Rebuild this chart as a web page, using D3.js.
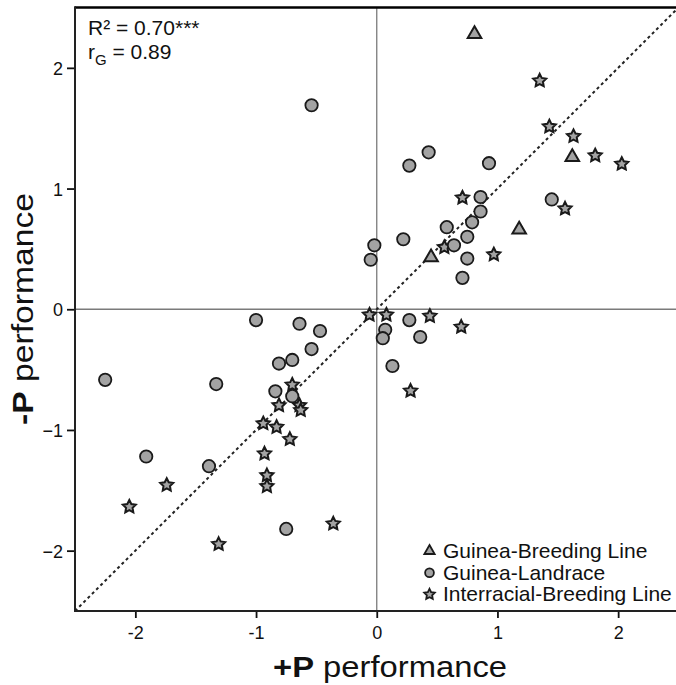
<!DOCTYPE html>
<html>
<head>
<meta charset="utf-8">
<script src="https://cdn.jsdelivr.net/npm/d3@7"></script>
<style>
  html, body { margin: 0; padding: 0; background: #fff; }
  svg { display: block; font-family: Arial, "Liberation Sans", Helvetica, sans-serif; }
</style>
</head>
<body>
<div id="chart"></div>
<script>
// ---- Data ----
const seriesNames = ["Guinea-Breeding Line", "Guinea-Landrace", "Interracial-Breeding Line"];

const breedingX = [0.81, 1.62, 1.18, 0.45];
const breedingY = [2.28, 1.26, 0.66, 0.43];

const landraceX = [0.43, 0.27, 0.93, 0.86, 0.86, 0.79, 0.58, 0.75, 0.64, 0.75, 0.71, 0.22, 1.45, -0.02, -0.05, -0.54,
  0.07, 0.05, 0.27, 0.36, 0.13, -1.00, -0.64, -0.47, -0.54, -0.70, -0.81, -0.84, -0.70, -1.33, -1.39, -2.25, -1.91, -0.75];
const landraceY = [1.30, 1.19, 1.21, 0.93, 0.81, 0.72, 0.68, 0.60, 0.53, 0.42, 0.26, 0.58, 0.91, 0.53, 0.41, 1.69,
  -0.17, -0.24, -0.09, -0.23, -0.47, -0.09, -0.12, -0.18, -0.33, -0.42, -0.45, -0.68, -0.72, -0.62, -1.30, -0.585, -1.22, -1.82];

const interX = [1.35, 1.43, 1.63, 1.81, 2.03, 1.56, 0.71, 0.56, 0.97, -0.06, 0.08, 0.44, 0.70, 0.28,
  -0.70, -0.81, -0.64, -0.63, -0.94, -0.83, -0.72, -0.93, -0.91, -0.91, -1.74, -2.05, -1.31, -0.36];
const interY = [1.90, 1.52, 1.44, 1.28, 1.21, 0.84, 0.93, 0.52, 0.46, -0.04, -0.04, -0.05, -0.14, -0.67,
  -0.62, -0.79, -0.79, -0.83, -0.94, -0.97, -1.07, -1.19, -1.37, -1.46, -1.45, -1.63, -1.94, -1.77];

const xTicks = [-2, -1, 0, 1, 2];
const xTickLabels = ["-2", "-1", "0", "1", "2"];
const yTicks = [-2, -1, 0, 1, 2];
const yTickLabels = ["\u22122", "\u22121", "0", "1", "2"];
const domainMin = -2.5, domainMax = 2.5;

// ---- Layout ----
const W = 676, H = 685;
const pLeft = 75, pRight = 678.5, pTop = 7.5, pBottom = 611;

const svg = d3.select("#chart").append("svg").attr("width", W).attr("height", H);

const x = d3.scaleLinear().domain([domainMin, domainMax]).range([pLeft, pRight]);
const y = d3.scaleLinear().domain([domainMin, domainMax]).range([pBottom, pTop]);

svg.append("defs").append("clipPath").attr("id", "clip")
  .append("rect").attr("x", pLeft).attr("y", pTop).attr("width", pRight - pLeft).attr("height", pBottom - pTop);

// zero reference lines
svg.append("line").attr("x1", x(0)).attr("x2", x(0)).attr("y1", pTop).attr("y2", pBottom)
  .attr("stroke", "#7a7a7a").attr("stroke-width", 1.3);
svg.append("line").attr("x1", pLeft).attr("x2", pRight).attr("y1", y(0)).attr("y2", y(0))
  .attr("stroke", "#7a7a7a").attr("stroke-width", 1.3);

// 1:1 dashed line
svg.append("line").attr("clip-path", "url(#clip)")
  .attr("x1", x(domainMin)).attr("y1", y(domainMin)).attr("x2", x(domainMax)).attr("y2", y(domainMax))
  .attr("stroke", "#222").attr("stroke-width", 2).attr("stroke-dasharray", "3,3");

// axes
const xAxis = d3.axisBottom(x).tickValues(xTicks).tickFormat((d, i) => xTickLabels[i]).tickSize(7).tickPadding(8);
const yAxis = d3.axisLeft(y).tickValues(yTicks).tickFormat((d, i) => yTickLabels[i]).tickSize(8).tickPadding(4);

const gx = svg.append("g").attr("transform", `translate(0,${pBottom})`).call(xAxis);
const gy = svg.append("g").attr("transform", `translate(${pLeft},0)`).call(yAxis);
[gx, gy].forEach(g => {
  g.select(".domain").remove();
  g.selectAll(".tick line").attr("stroke", "#111").attr("stroke-width", 1.8);
  g.selectAll(".tick text").attr("fill", "#111").style("font-size", "18px")
    .style("font-family", "Arial, 'Liberation Sans', sans-serif");
});
gy.selectAll(".tick text").attr("dy", "0.36em");

// frame lines
svg.append("line").attr("x1", pLeft).attr("x2", W).attr("y1", pTop).attr("y2", pTop)
  .attr("stroke", "#000").attr("stroke-width", 2.6);
svg.append("line").attr("x1", pLeft).attr("x2", pLeft).attr("y1", pTop - 1.3).attr("y2", pBottom + 1)
  .attr("stroke", "#222").attr("stroke-width", 2);
svg.append("line").attr("x1", pLeft - 1).attr("x2", W).attr("y1", pBottom).attr("y2", pBottom)
  .attr("stroke", "#222").attr("stroke-width", 2);

// ---- Marks ----
// a plumper 5-point star (inner radius about half the outer radius)
const fatStar = {
  draw(context, size) {
    const R = Math.sqrt(size * 0.9);
    const r = R * 0.5;
    for (let i = 0; i < 10; i++) {
      const a = -Math.PI / 2 + i * Math.PI / 5;
      const rad = i % 2 === 0 ? R : r;
      const px = Math.cos(a) * rad, py = Math.sin(a) * rad;
      if (i === 0) context.moveTo(px, py); else context.lineTo(px, py);
    }
    context.closePath();
  }
};

const fill = "#a3a3a3", stroke = "#1a1a1a";
const starSym = d3.symbol().type(fatStar).size(52);
const circleSym = d3.symbol().type(d3.symbolCircle).size(Math.PI * 6.2 * 6.2);
const triSym = d3.symbol().type(d3.symbolTriangle).size(80);

const plot = svg.append("g").attr("clip-path", "url(#clip)");

plot.selectAll("path.star").data(d3.zip(interX, interY)).join("path")
  .attr("class", "star").attr("d", starSym)
  .attr("transform", d => `translate(${x(d[0])},${y(d[1]) + 0.8})`)
  .attr("fill", fill).attr("stroke", stroke).attr("stroke-width", 2).attr("stroke-linejoin", "miter");

plot.selectAll("path.circ").data(d3.zip(landraceX, landraceY)).join("path")
  .attr("class", "circ").attr("d", circleSym)
  .attr("transform", d => `translate(${x(d[0])},${y(d[1])})`)
  .attr("fill", fill).attr("stroke", stroke).attr("stroke-width", 1.8);

plot.selectAll("path.tri").data(d3.zip(breedingX, breedingY)).join("path")
  .attr("class", "tri").attr("d", triSym)
  .attr("transform", d => `translate(${x(d[0])},${y(d[1])})`)
  .attr("fill", fill).attr("stroke", stroke).attr("stroke-width", 2).attr("stroke-linejoin", "miter");

// ---- Annotation ----
svg.append("text").attr("x", 88).attr("y", 35).style("font-size", "21px").attr("fill", "#111")
  .text("R\u00B2 = 0.70***");
const rg = svg.append("text").attr("x", 88).attr("y", 59).style("font-size", "21px").attr("fill", "#111");
rg.append("tspan").text("r");
rg.append("tspan").attr("dy", 6).style("font-size", "15px").text("G");
rg.append("tspan").attr("dy", -6).text(" = 0.89");

// ---- Legend ----
const legendRows = [
  { name: seriesNames[0], sym: d3.symbol().type(d3.symbolTriangle).size(46) },
  { name: seriesNames[1], sym: d3.symbol().type(d3.symbolCircle).size(Math.PI * 4.4 * 4.4) },
  { name: seriesNames[2], sym: d3.symbol().type(fatStar).size(34) }
];
const lg = svg.append("g");
legendRows.forEach((r, i) => {
  const cy = 551 + i * 21.7;
  lg.append("path").attr("d", r.sym()).attr("transform", `translate(429.5,${cy})`)
    .attr("fill", fill).attr("stroke", stroke).attr("stroke-width", 1.8);
  lg.append("text").attr("x", 443).attr("y", cy + 7).style("font-size", "21px").attr("fill", "#111").text(r.name);
});

// ---- Axis titles ----
const xt = svg.append("text").attr("x", 273).attr("y", 677).style("font-size", "30px").attr("fill", "#111")
  .attr("textLength", 234).attr("lengthAdjust", "spacingAndGlyphs");
xt.append("tspan").style("font-weight", "bold").text("+P");
xt.append("tspan").text(" performance");

const yt = svg.append("text").attr("transform", "translate(33,425) rotate(-90)").style("font-size", "30px")
  .attr("fill", "#111").attr("textLength", 232).attr("lengthAdjust", "spacingAndGlyphs");
yt.append("tspan").style("font-weight", "bold").text("-P");
yt.append("tspan").text(" performance");
</script>
</body>
</html>
